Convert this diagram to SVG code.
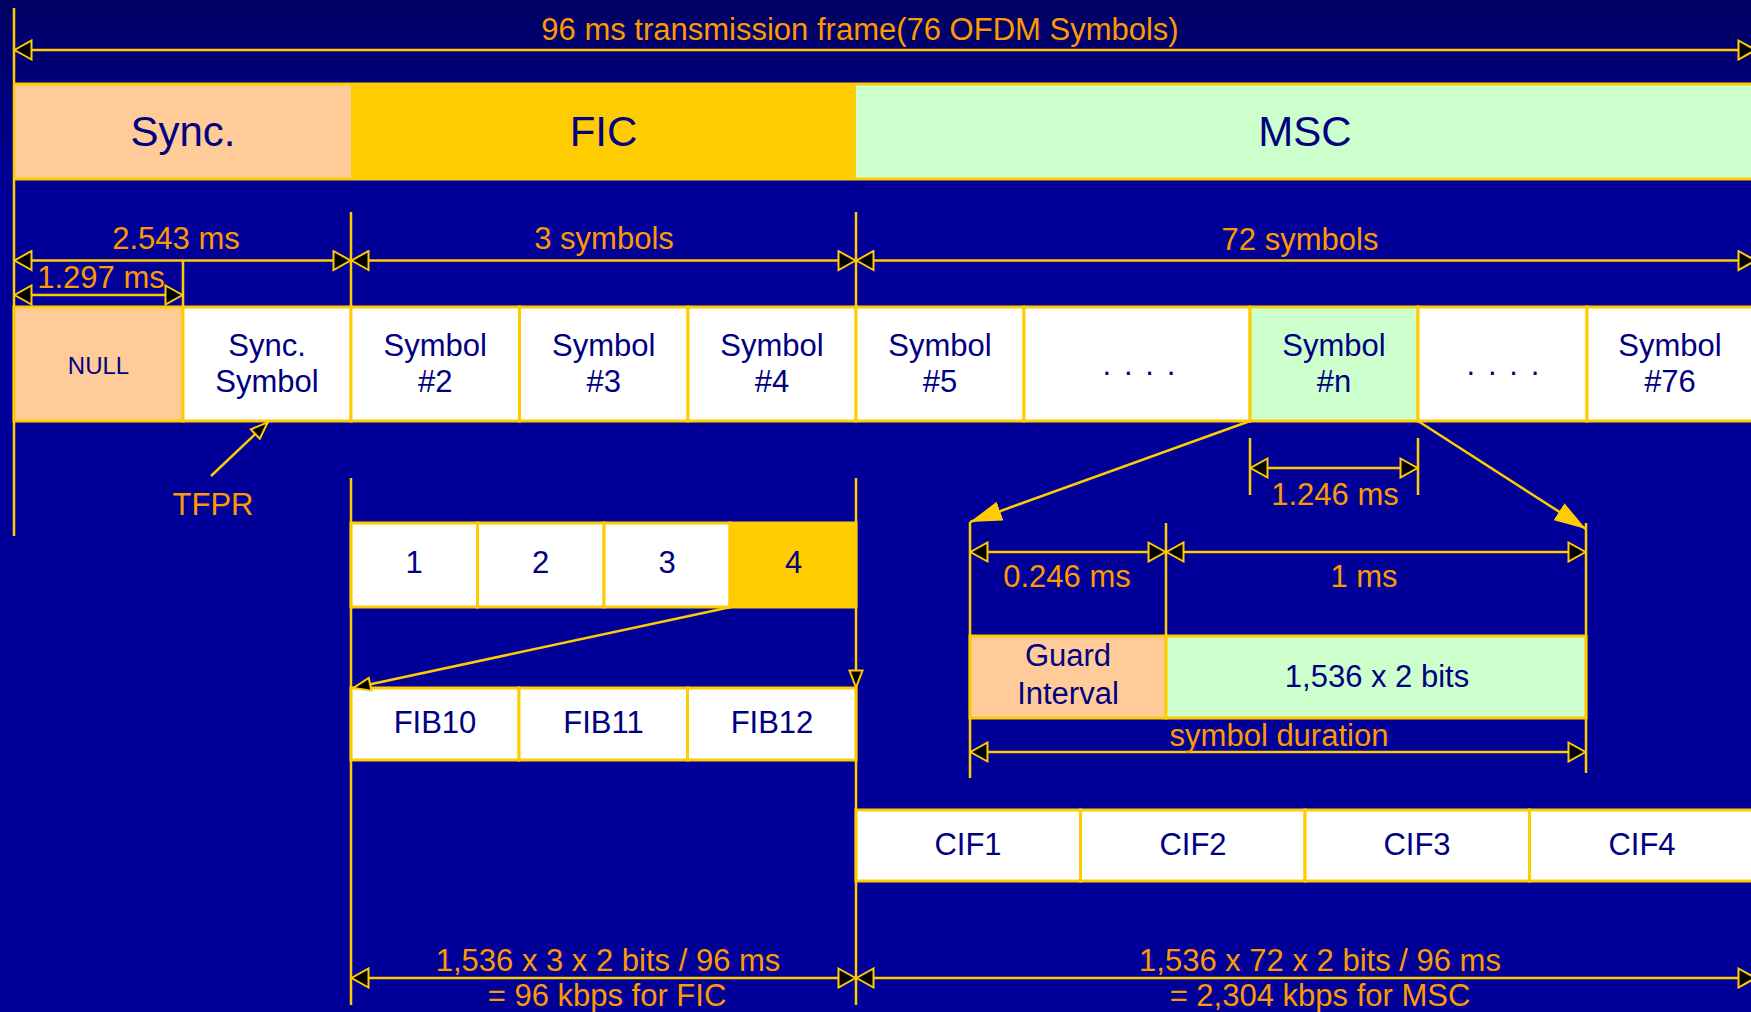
<svg xmlns="http://www.w3.org/2000/svg" width="1751" height="1012" viewBox="0 0 1751 1012">
<defs>
<linearGradient id="bg" x1="0" y1="0" x2="0" y2="200" gradientUnits="userSpaceOnUse">
<stop offset="0" stop-color="#000062"/>
<stop offset="1" stop-color="#000099"/>
</linearGradient>
<marker id="ah" viewBox="0 0 20 22" refX="19" refY="11" markerWidth="20" markerHeight="22" markerUnits="userSpaceOnUse" orient="auto-start-reverse">
<path d="M1.5,1.5 L18.5,11 L1.5,20.5 Z" fill="#000" stroke="#FFCC00" stroke-width="2"/>
</marker>
<marker id="ahm" viewBox="0 0 20 16" refX="19" refY="8" markerWidth="20" markerHeight="16" markerUnits="userSpaceOnUse" orient="auto-start-reverse">
<path d="M1.5,1.5 L18.5,8 L1.5,14.5 Z" fill="#000" stroke="#FFCC00" stroke-width="2"/>
</marker>
<marker id="ahs" viewBox="0 0 32 20" refX="32" refY="10" markerWidth="32" markerHeight="20" markerUnits="userSpaceOnUse" orient="auto">
<path d="M0,0 L32,10 L0,20 Z" fill="#FFCC00"/>
</marker>
<style>
.box{stroke:#FFCC00;stroke-width:3}
.w{fill:#FFFFFF}
.pk{fill:#FFCC99}
.gr{fill:#CCFFCC}
.yl{fill:#FFCC00}
.t{font-family:"Liberation Sans",Arial,Helvetica,sans-serif;font-size:31px;fill:#000080;text-anchor:middle}
.o{font-family:"Liberation Sans",Arial,Helvetica,sans-serif;font-size:31px;fill:#FF9900;text-anchor:middle}
.h{font-size:42px}
.ln{stroke:#FFCC00;stroke-width:2.5;fill:none}
.bl{stroke:#FFCC00;stroke-width:3;fill:none}
</style>
</defs>
<rect x="0" y="0" width="1751" height="1012" fill="url(#bg)"/>

<!-- header bar -->
<g id="hdr-sync"><rect x="14" y="84" width="337" height="95" class="pk"/><text x="183" y="146" class="t h">Sync.</text></g>
<g id="hdr-fic"><rect x="351" y="84" width="505" height="95" class="yl"/><text x="603.5" y="146" class="t h">FIC</text></g>
<g id="hdr-msc"><rect x="856" y="84" width="900" height="95" class="gr"/><text x="1305" y="146" class="t h">MSC</text></g>
<g id="hdr-border"><line x1="14" y1="84" x2="1751" y2="84" class="bl"/><line x1="14" y1="179" x2="1751" y2="179" class="bl"/></g>

<!-- symbol row -->
<g id="sym-null"><rect x="14" y="307" width="169" height="114" class="box pk"/><text x="98.5" y="374" class="t" style="font-size:24px">NULL</text></g>
<g id="sym-sync"><rect x="183" y="307" width="168" height="114" class="box w"/><text x="267" y="356" class="t">Sync.</text><text x="267" y="392" class="t">Symbol</text></g>
<g id="sym-2"><rect x="351" y="307" width="168.5" height="114" class="box w"/><text x="435.3" y="356" class="t">Symbol</text><text x="435.3" y="392" class="t">#2</text></g>
<g id="sym-3"><rect x="519.5" y="307" width="168.5" height="114" class="box w"/><text x="603.8" y="356" class="t">Symbol</text><text x="603.8" y="392" class="t">#3</text></g>
<g id="sym-4"><rect x="688" y="307" width="168" height="114" class="box w"/><text x="772" y="356" class="t">Symbol</text><text x="772" y="392" class="t">#4</text></g>
<g id="sym-5"><rect x="856" y="307" width="168" height="114" class="box w"/><text x="940" y="356" class="t">Symbol</text><text x="940" y="392" class="t">#5</text></g>
<g id="sym-dots1"><rect x="1024" y="307" width="226" height="114" class="box w"/><text x="1140" y="375" class="t" style="letter-spacing:2.1px">. . . .</text></g>
<g id="sym-n"><rect x="1250" y="307" width="168" height="114" class="box gr"/><text x="1334" y="356" class="t">Symbol</text><text x="1334" y="392" class="t">#n</text></g>
<g id="sym-dots2"><rect x="1418" y="307" width="169" height="114" class="box w"/><text x="1504" y="375" class="t" style="letter-spacing:2.1px">. . . .</text></g>
<g id="sym-76"><rect x="1587" y="307" width="170" height="114" class="box w"/><text x="1670" y="356" class="t">Symbol</text><text x="1670" y="392" class="t">#76</text></g>

<!-- FIC sub boxes -->
<g id="fic-1"><rect x="351" y="523" width="126.5" height="84" class="box w"/><text x="414" y="573" class="t">1</text></g>
<g id="fic-2"><rect x="477.5" y="523" width="126.5" height="84" class="box w"/><text x="540.5" y="573" class="t">2</text></g>
<g id="fic-3"><rect x="604" y="523" width="126" height="84" class="box w"/><text x="667" y="573" class="t">3</text></g>
<g id="fic-4"><rect x="730" y="523" width="126" height="84" class="box yl"/><text x="793.5" y="573" class="t">4</text></g>

<!-- FIB row -->
<g id="fib-10"><rect x="351" y="688" width="168" height="72" class="box w"/><text x="435" y="733" class="t">FIB10</text></g>
<g id="fib-11"><rect x="519" y="688" width="168.5" height="72" class="box w"/><text x="603.5" y="733" class="t">FIB11</text></g>
<g id="fib-12"><rect x="687.5" y="688" width="168.5" height="72" class="box w"/><text x="772" y="733" class="t">FIB12</text></g>

<!-- CIF row -->
<g id="cif-1"><rect x="856" y="810" width="224.5" height="71" class="box w"/><text x="968" y="855" class="t">CIF1</text></g>
<g id="cif-2"><rect x="1080.5" y="810" width="224.5" height="71" class="box w"/><text x="1193" y="855" class="t">CIF2</text></g>
<g id="cif-3"><rect x="1305" y="810" width="224.5" height="71" class="box w"/><text x="1417" y="855" class="t">CIF3</text></g>
<g id="cif-4"><rect x="1529.5" y="810" width="226" height="71" class="box w"/><text x="1642" y="855" class="t">CIF4</text></g>

<!-- symbol detail -->
<g id="guard"><rect x="970" y="636" width="196" height="82" class="box pk"/><text x="1068" y="666" class="t">Guard</text><text x="1068" y="704" class="t">Interval</text></g>
<g id="useful"><rect x="1166" y="636" width="420" height="82" class="box gr"/><text x="1377" y="687" class="t">1,536 x 2 bits</text></g>

<g id="connectors">
<!-- vertical extension lines -->
<line x1="14" y1="8" x2="14" y2="536" class="ln"/>
<line x1="183" y1="260.5" x2="183" y2="307" class="ln"/>
<line x1="351" y1="212" x2="351" y2="307" class="ln"/>
<line x1="856" y1="212" x2="856" y2="307" class="ln"/>
<line x1="351" y1="478" x2="351" y2="1005" class="ln"/>
<line x1="856" y1="478" x2="856" y2="688" class="ln" marker-end="url(#ahm)"/>
<line x1="856" y1="688" x2="856" y2="1005" class="ln"/>
<line x1="1250" y1="438" x2="1250" y2="495" class="ln"/>
<line x1="1418" y1="438" x2="1418" y2="495" class="ln"/>
<line x1="970" y1="522" x2="970" y2="778" class="ln"/>
<line x1="1166" y1="523" x2="1166" y2="636" class="ln"/>
<line x1="1586" y1="523" x2="1586" y2="773" class="ln"/>

<!-- dimension arrows -->
<line x1="14" y1="50" x2="1756" y2="50" class="ln" marker-start="url(#ah)" marker-end="url(#ah)"/>
<line x1="14" y1="260.5" x2="351" y2="260.5" class="ln" marker-start="url(#ah)" marker-end="url(#ah)"/>
<line x1="14" y1="295" x2="183" y2="295" class="ln" marker-start="url(#ah)" marker-end="url(#ah)"/>
<line x1="351" y1="260.5" x2="856" y2="260.5" class="ln" marker-start="url(#ah)" marker-end="url(#ah)"/>
<line x1="856" y1="260.5" x2="1756" y2="260.5" class="ln" marker-start="url(#ah)" marker-end="url(#ah)"/>
<line x1="1250" y1="468" x2="1418" y2="468" class="ln" marker-start="url(#ah)" marker-end="url(#ah)"/>
<line x1="970" y1="552" x2="1166" y2="552" class="ln" marker-start="url(#ah)" marker-end="url(#ah)"/>
<line x1="1166" y1="552" x2="1586" y2="552" class="ln" marker-start="url(#ah)" marker-end="url(#ah)"/>
<line x1="970" y1="752" x2="1586" y2="752" class="ln" marker-start="url(#ah)" marker-end="url(#ah)"/>
<line x1="351" y1="978" x2="856" y2="978" class="ln" marker-start="url(#ah)" marker-end="url(#ah)"/>
<line x1="856" y1="978" x2="1756" y2="978" class="ln" marker-start="url(#ah)" marker-end="url(#ah)"/>

<!-- pointer arrows -->
<line x1="211" y1="476" x2="268" y2="422" class="ln" marker-end="url(#ahm)"/>
<line x1="731" y1="607" x2="353" y2="688" class="ln" marker-end="url(#ahm)"/>
<line x1="1250" y1="421" x2="970" y2="522" class="ln" marker-end="url(#ahs)"/>
<line x1="1418" y1="421" x2="1586" y2="529" class="ln" marker-end="url(#ahs)"/>
</g>

<g id="labels">
<text x="860" y="39.5" class="o">96 ms transmission frame(76 OFDM Symbols)</text>
<text x="176" y="249" class="o">2.543 ms</text>
<text x="101" y="288" class="o">1.297 ms</text>
<text x="604" y="249" class="o">3 symbols</text>
<text x="1300" y="250" class="o">72 symbols</text>
<text x="213" y="515" class="o">TFPR</text>
<text x="1335" y="505" class="o">1.246 ms</text>
<text x="1067" y="587" class="o">0.246 ms</text>
<text x="1364" y="587" class="o">1 ms</text>
<text x="1279" y="746" class="o">symbol duration</text>
<text x="608" y="971" class="o">1,536 x 3 x 2 bits / 96 ms</text>
<text x="607" y="1006" class="o">= 96 kbps for FIC</text>
<text x="1320" y="971" class="o">1,536 x 72 x 2 bits / 96 ms</text>
<text x="1320" y="1006" class="o">= 2,304 kbps for MSC</text>
</g>
</svg>
